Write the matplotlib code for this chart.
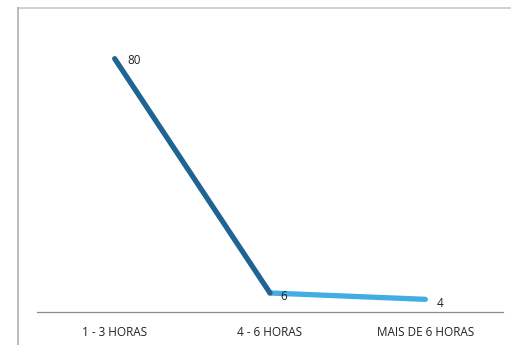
import matplotlib
matplotlib.use("Agg")
import matplotlib.pyplot as plt
from matplotlib.lines import Line2D

# horas por dia -> numero de respostas
categorias = ["1 - 3 HORAS", "4 - 6 HORAS", "MAIS DE 6 HORAS"]
valores = [80, 6, 4]

ESCURO, CLARO = "#1f6492", "#41ade2"
plt.rcParams["font.family"] = ["Open Sans", "DejaVu Sans"]

fig = plt.figure(figsize=(5.11, 3.45), dpi=100)
ax = fig.add_axes([37 / 511, 33 / 345, 466 / 511, 304 / 345])

x = list(range(len(categorias)))
# primeiro trecho escuro, o resto em azul claro
ax.plot(x[:2], valores[:2], color=ESCURO, lw=3.8, solid_capstyle="round", zorder=3)
ax.plot(x[1:], valores[1:], color=CLARO, lw=3.8, solid_capstyle="round", zorder=2)

offsets = [(19, -2), (14, -3), (15, -4)]
for xi, v, (dx, dy) in zip(x, valores, offsets):
    ax.annotate(str(v), (xi, v), xytext=(dx, dy), textcoords="offset pixels",
                ha="center", va="center", fontsize=8.5, color="#222222")

ax.set_xlim(-0.5, 2.5)
ax.set_ylim(0, 96)
ax.set_xticks(x)
ax.set_xticklabels(categorias, fontsize=8.5, color="#222222")
ax.tick_params(axis="x", length=0, pad=10)
ax.set_yticks([])
for s in ["top", "right", "left"]:
    ax.spines[s].set_visible(False)
ax.spines["bottom"].set_color("#8c8c8c")
ax.spines["bottom"].set_linewidth(0.9)

# moldura cinza: linha de cima e linha da esquerda
fig.add_artist(Line2D([18 / 511, 1], [337 / 345, 337 / 345], color="#c8c8c8", lw=1.2))
fig.add_artist(Line2D([18 / 511, 18 / 511], [0, 337 / 345], color="#b0b0b0", lw=1.2))

fig.savefig("out.png", dpi=100, facecolor="white")
